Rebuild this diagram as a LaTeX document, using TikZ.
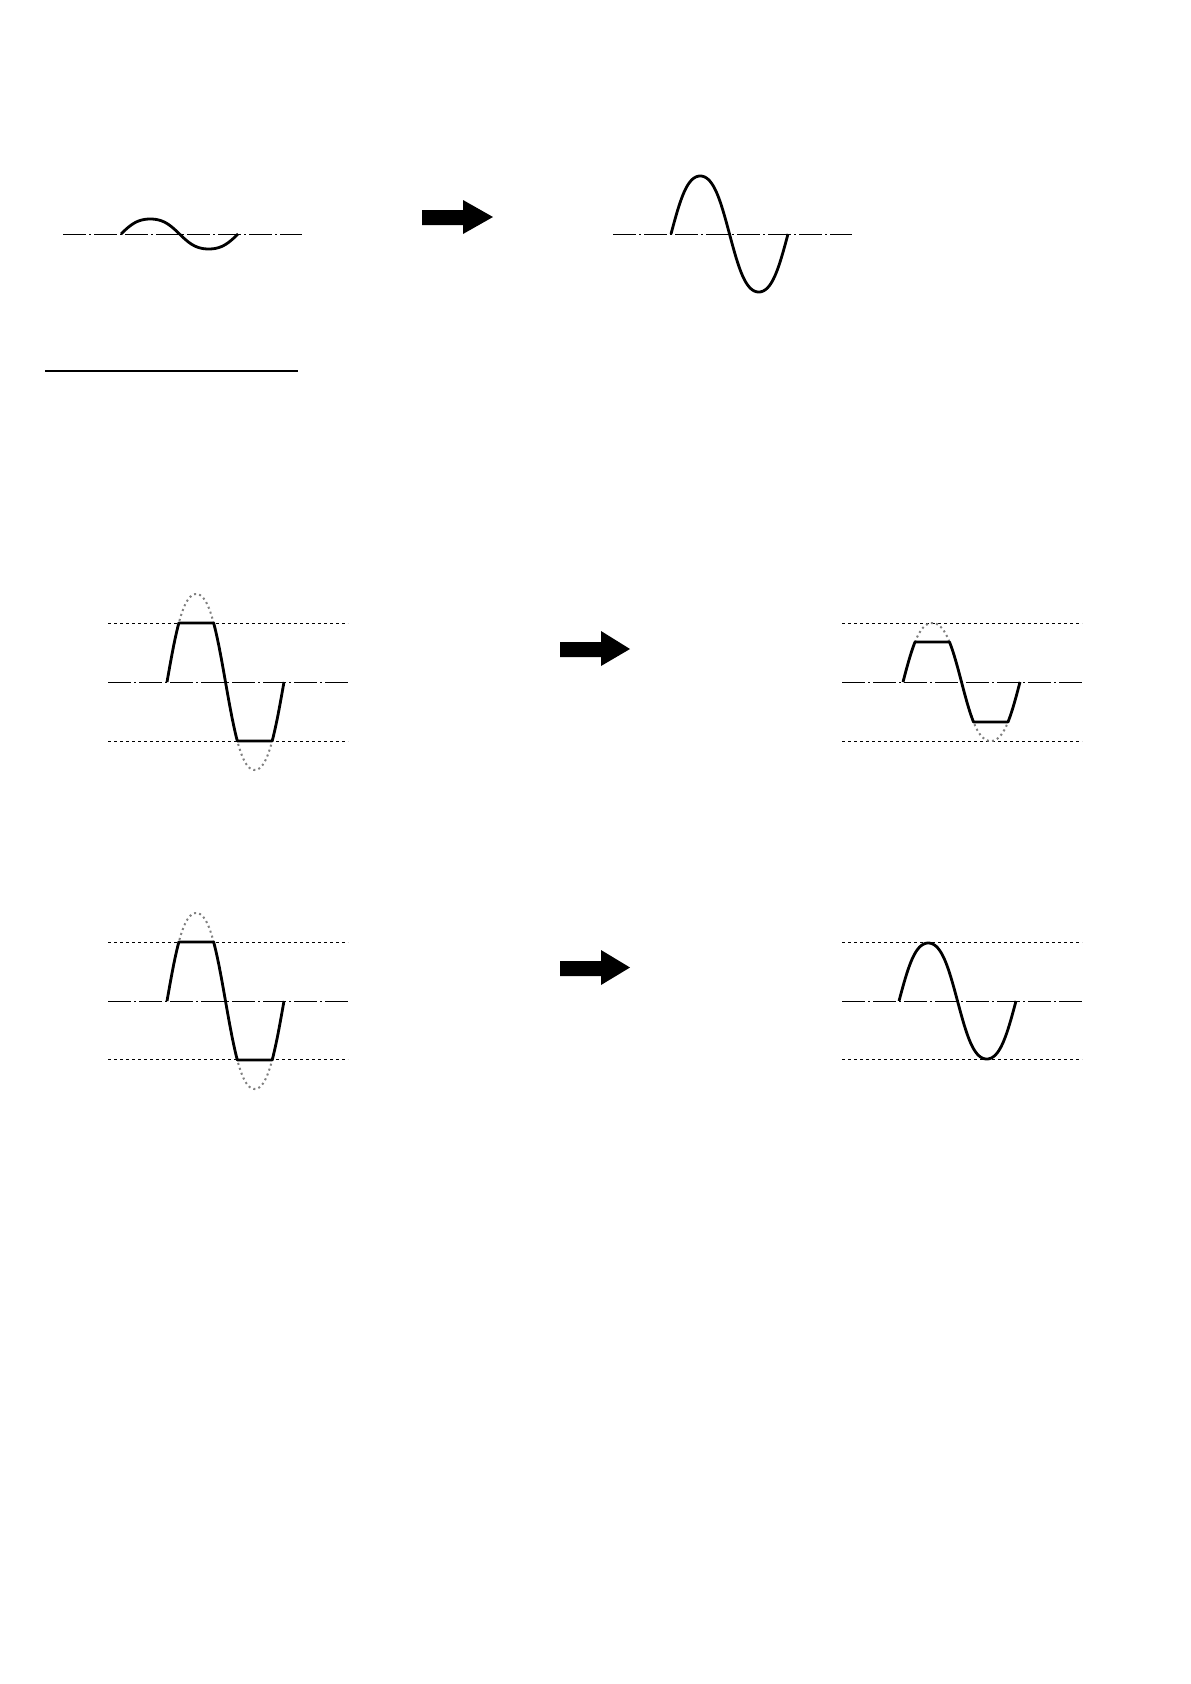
\documentclass[tikz,border=0pt]{standalone}
\begin{document}
\begin{tikzpicture}[x=1pt,y=-1pt,
  declare function={wv(\t)=sin(\t)*(1+0.2*cos(\t)*cos(\t));},
  axisline/.style={line width=1pt,dash pattern=on 23pt off 3pt on 2pt off 3pt},
  limitline/.style={line width=0.9pt,dash pattern=on 3pt off 3pt},
  wave/.style={line width=2.8pt,line join=round},
  ghost/.style={line width=2pt,gray,dash pattern=on 2pt off 3.2pt},
  bigarrow/.style={fill=black,draw=none}]
\useasboundingbox (0,0) rectangle (1191,1684);
\fill[white] (0,0) rectangle (1191,1684);

% ---------- top row ----------
\draw[axisline] (63,234) -- (302,234);
\draw[wave] plot[domain=0:360,samples=181] ({121+\x/360*117},{234-15*wv(\x)});
\fill[bigarrow] (422,210) -- (463,210) -- (463,200) -- (493,217) -- (463,234) -- (463,225) -- (422,225) -- cycle;
\draw[axisline] (613,234) -- (852,234);
\draw[wave] plot[domain=0:360,samples=181] ({671+\x/360*117},{234-58*wv(\x)});

\draw[line width=1.3pt] (45,371) -- (298,371);

% ---------- middle row ----------
\draw[limitline] (108,623) -- (348,623);
\draw[limitline] (108,741) -- (348,741);
\draw[axisline] (108,682) -- (348,682);
\draw[ghost] plot[domain=0:360,samples=181] ({167+\x/360*117},{682-88*wv(\x)});
\draw[wave] plot[domain=0:360,samples=721] ({167+\x/360*117},{682-max(-59,min(59,88*wv(\x)))});

\fill[bigarrow] (560,642) -- (601,642) -- (601,631) -- (630,649) -- (601,666) -- (601,657) -- (560,657) -- cycle;

\draw[limitline] (842,623) -- (1082,623);
\draw[limitline] (842,741) -- (1082,741);
\draw[axisline] (842,682) -- (1082,682);
\draw[ghost] plot[domain=0:360,samples=181] ({903+\x/360*117},{682-59*wv(\x)});
\draw[wave] plot[domain=0:360,samples=721] ({903+\x/360*117},{682-max(-40,min(40,59*wv(\x)))});

% ---------- bottom row ----------
\draw[limitline] (108,942) -- (348,942);
\draw[limitline] (108,1059) -- (348,1059);
\draw[axisline] (108,1001) -- (348,1001);
\draw[ghost] plot[domain=0:360,samples=181] ({167+\x/360*117},{1001-88*wv(\x)});
\draw[wave] plot[domain=0:360,samples=721] ({167+\x/360*117},{1001-max(-59,min(59,88*wv(\x)))});

\fill[bigarrow] (560,961) -- (601,961) -- (601,950) -- (630,967.5) -- (601,985) -- (601,976) -- (560,976) -- cycle;

\draw[limitline] (842,942) -- (1082,942);
\draw[limitline] (842,1059) -- (1082,1059);
\draw[axisline] (842,1001) -- (1082,1001);
\draw[wave] plot[domain=0:360,samples=181] ({899+\x/360*117},{1001-58*wv(\x)});
\end{tikzpicture}
\end{document}
